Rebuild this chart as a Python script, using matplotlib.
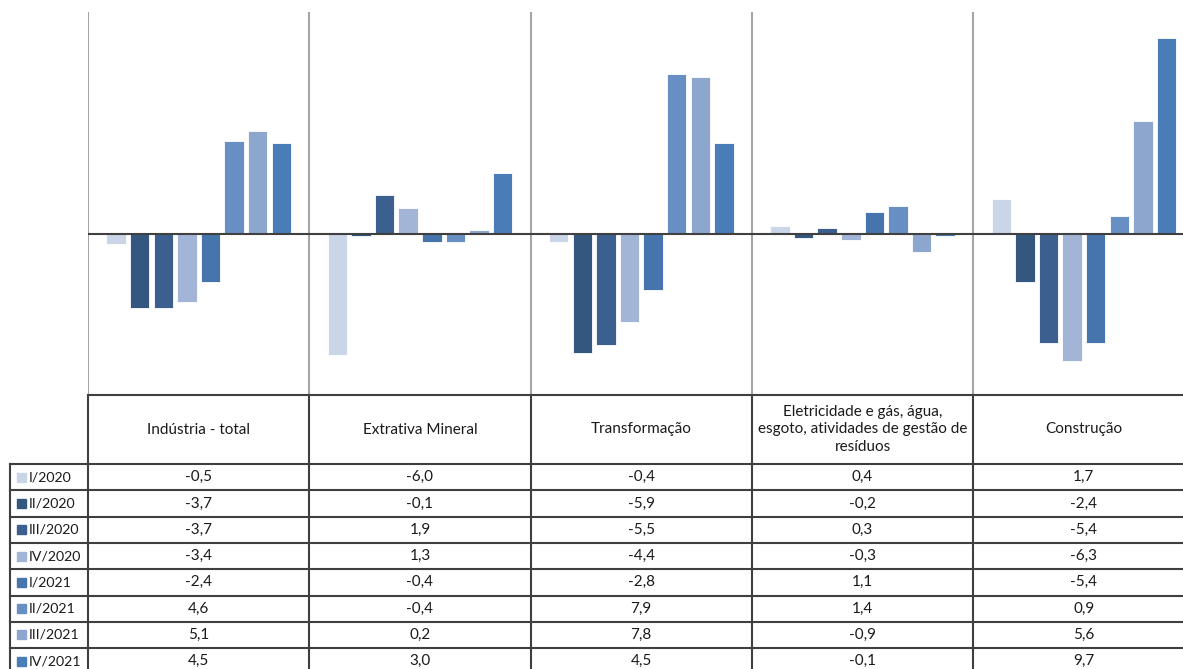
import matplotlib
matplotlib.use("Agg")
import matplotlib.pyplot as plt
from matplotlib.patches import Rectangle

plt.rcParams["font.family"] = ["Lato", "DejaVu Sans"]

# sectors (columns) and quarters (series / table rows)
sectors = [
    "Indústria - total",
    "Extrativa Mineral",
    "Transformação",
    "Eletricidade e gás, água,\nesgoto, atividades de gestão de\nresíduos",
    "Construção",
]
quarters = ["I/2020", "II/2020", "III/2020", "IV/2020",
            "I/2021", "II/2021", "III/2021", "IV/2021"]

# % change per quarter, one value per sector
q1_2020 = [-0.5, -6.0, -0.4, 0.4, 1.7]
q2_2020 = [-3.7, -0.1, -5.9, -0.2, -2.4]
q3_2020 = [-3.7, 1.9, -5.5, 0.3, -5.4]
q4_2020 = [-3.4, 1.3, -4.4, -0.3, -6.3]
q1_2021 = [-2.4, -0.4, -2.8, 1.1, -5.4]
q2_2021 = [4.6, -0.4, 7.9, 1.4, 0.9]
q3_2021 = [5.1, 0.2, 7.8, -0.9, 5.6]
q4_2021 = [4.5, 3.0, 4.5, -0.1, 9.7]
series = [q1_2020, q2_2020, q3_2020, q4_2020, q1_2021, q2_2021, q3_2021, q4_2021]

colors = ["#cbd5e8", "#33577f", "#3b5f8e", "#a3b5d6",
          "#4674ac", "#678fc4", "#8da6ce", "#4a7cb7"]

W, H = 1183, 669
fig = plt.figure(figsize=(W / 100, H / 100), dpi=100)

# layout in pixels
x0 = 88          # left edge of first category
cat_w = 221.3    # width of one category
top = 12         # top of plot area
y_tab = 395      # top of table / bottom of plot
y_row0 = 464     # first data row
row_h = 26.3
lab_x0 = 10

ax = fig.add_axes([x0 / W, 1 - y_tab / H, len(sectors) * cat_w / W, (y_tab - top) / H])
ax.set_xlim(0, len(sectors))
ax.set_ylim(-8, 11)
ax.axis("off")

pitch = 23.6 / cat_w
bw = 19.5 / cat_w
for i, vals in enumerate(series):
    xs = [c + 0.5 + (i - 3.5) * pitch for c in range(len(sectors))]
    ax.bar(xs, vals, width=bw, color=colors[i], edgecolor="white", linewidth=0.6, zorder=2)

for c in range(len(sectors) + 1):
    ax.axvline(c, color="#a6a6a6", lw=1.5, zorder=1)
ax.axhline(0, color="#404040", lw=1.5, zorder=3)

# data table underneath, drawn in pixel coordinates
tx = fig.add_axes([0, 0, 1, 1])
tx.set_xlim(0, W)
tx.set_ylim(H, 0)
tx.axis("off")

lc = "#3f3f3f"
xr = x0 + len(sectors) * cat_w
n = len(quarters)
y_bottom = y_row0 + n * row_h

tx.plot([x0, xr], [y_tab, y_tab], color=lc, lw=1.5)
for r in range(n + 1):
    y = y_row0 + r * row_h
    tx.plot([lab_x0, xr], [y, y], color=lc, lw=1.5)
tx.plot([lab_x0, lab_x0], [y_row0, y_bottom], color=lc, lw=1.5)
for c in range(len(sectors) + 1):
    x = x0 + c * cat_w
    tx.plot([x, x], [y_tab, y_bottom], color=lc, lw=1.5)

fs = 11
for c, name in enumerate(sectors):
    tx.text(x0 + (c + 0.5) * cat_w, (y_tab + y_row0) / 2, name,
            ha="center", va="center", fontsize=fs, color="#1a1a1a", linespacing=1.3)

for r, (q, vals) in enumerate(zip(quarters, series)):
    yc = y_row0 + (r + 0.5) * row_h
    tx.add_patch(Rectangle((17, yc - 4.5), 9, 9, color=colors[r]))
    tx.text(29, yc, q, ha="left", va="center", fontsize=10.2, color="#1a1a1a")
    for c, v in enumerate(vals):
        tx.text(x0 + (c + 0.5) * cat_w, yc, f"{v:.1f}".replace(".", ","),
                ha="center", va="center", fontsize=fs, color="#1a1a1a")

fig.savefig("out.png", dpi=100)
